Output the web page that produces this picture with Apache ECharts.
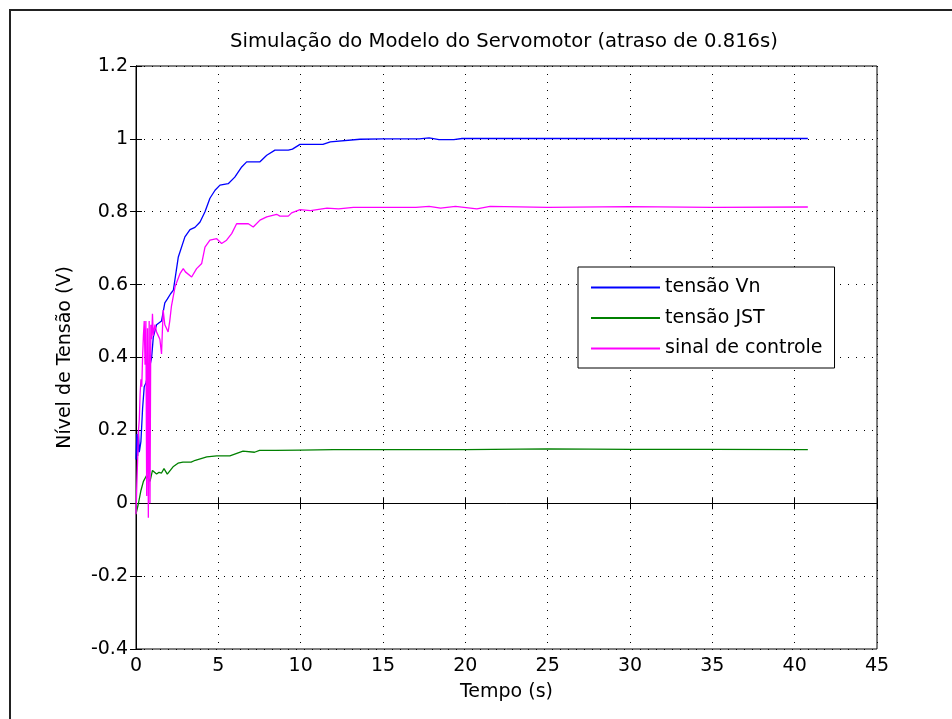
<!DOCTYPE html>
<html>
<head>
<meta charset="utf-8">
<script src="https://cdn.jsdelivr.net/npm/echarts@6/dist/echarts.min.js"></script>
<style>
  html, body { margin: 0; padding: 0; background: #fff; }
  #chart { width: 952px; height: 719px; }
</style>
</head>
<body>
<div id="chart"></div>
<script>
// Tensão Vn (saída do servomotor)
const tempoVn = [0, 0.05, 0.1, 0.15, 0.2, 0.3, 0.4, 0.5, 0.6, 0.75, 0.95, 1.05, 1.25, 1.55, 1.75, 1.9, 2.1, 2.27, 2.57, 2.97, 3.28, 3.58, 3.89, 4.19, 4.49, 4.8, 5.1, 5.6, 6.0, 6.42, 6.72, 7.53, 7.94, 8.44, 9.25, 9.5, 9.96, 11.35, 11.8, 13.6, 15, 17.2, 17.8, 18.4, 19.3, 19.8, 22, 25, 30, 35, 40.8];
const tensaoVn = [0.12, 0.19, 0.13, 0.2, 0.14, 0.17, 0.26, 0.32, 0.33, 0.357, 0.40, 0.456, 0.49, 0.50, 0.55, 0.56, 0.575, 0.585, 0.676, 0.731, 0.751, 0.757, 0.772, 0.80, 0.837, 0.859, 0.873, 0.877, 0.895, 0.923, 0.937, 0.937, 0.955, 0.969, 0.969, 0.972, 0.985, 0.985, 0.992, 0.999, 1.0, 1.0, 1.003, 0.998, 0.998, 1.001, 1.001, 1.001, 1.001, 1.001, 1.001];

// Tensão JST
const tempoJST = [0, 0.15, 0.3, 0.45, 0.65, 0.85, 1.0, 1.25, 1.4, 1.55, 1.7, 1.9, 2.25, 2.55, 2.85, 3.35, 3.6, 4.3, 4.9, 5.7, 6.5, 7.2, 7.5, 8.5, 10, 12, 15, 20, 25, 30, 35, 40.8];
const tensaoJST = [-0.03, 0.0, 0.035, 0.06, 0.077, 0.06, 0.09, 0.08, 0.085, 0.083, 0.095, 0.08, 0.1, 0.11, 0.113, 0.113, 0.118, 0.127, 0.13, 0.13, 0.143, 0.14, 0.145, 0.145, 0.146, 0.147, 0.147, 0.147, 0.149, 0.148, 0.148, 0.147];

// Sinal de controle
const tempoControle = [0, 0.05, 0.1, 0.15, 0.2, 0.25, 0.3, 0.35, 0.4, 0.45, 0.5, 0.55, 0.6, 0.65, 0.7, 0.75, 0.8, 0.85, 0.9, 0.95, 1.0, 1.05, 1.15, 1.25, 1.35, 1.45, 1.55, 1.65, 1.75, 1.85, 1.95, 2.05, 2.15, 2.37, 2.67, 2.87, 3.0, 3.38, 3.68, 3.99, 4.19, 4.49, 4.9, 5.2, 5.5, 5.81, 6.11, 6.82, 7.12, 7.53, 7.94, 8.54, 8.74, 9.25, 9.45, 9.96, 10.6, 11.6, 12.3, 13.2, 17.0, 17.8, 18.5, 19.4, 20.7, 21.5, 25, 30, 35, 40.8];
const sinalControle = [-0.03, 0.05, 0.12, 0.2, 0.23, 0.3, 0.34, 0.32, 0.4, 0.46, 0.5, 0.38, 0.5, 0.02, 0.48, -0.04, 0.5, 0.0, 0.49, 0.45, 0.52, 0.46, 0.49, 0.47, 0.46, 0.45, 0.41, 0.53, 0.49, 0.48, 0.47, 0.5, 0.54, 0.594, 0.63, 0.644, 0.635, 0.621, 0.644, 0.658, 0.703, 0.722, 0.726, 0.713, 0.722, 0.74, 0.767, 0.767, 0.758, 0.777, 0.786, 0.793, 0.788, 0.788, 0.797, 0.806, 0.803, 0.81, 0.808, 0.812, 0.812, 0.815, 0.81, 0.815, 0.808, 0.815, 0.812, 0.814, 0.812, 0.813];

const nomesSeries = ['tensão Vn', 'tensão JST', 'sinal de controle'];
const coresSeries = ['#0000ff', '#008000', '#ff00ff'];

// Eixos
const eixoX = { min: 0, max: 45, interval: 5 };
const eixoY = { min: -0.4, max: 1.2, interval: 0.2 };

const FONTE = 'DejaVu Sans';
const pares = (t, v) => t.map((x, i) => [x, v[i]]);

const chart = echarts.init(document.getElementById('chart'), null, { renderer: 'canvas' });

const gradePontilhada = { show: true, lineStyle: { color: '#000', width: 1, type: [1, 7] } };
const tick = { show: true, inside: true, length: 6, lineStyle: { color: '#000', width: 1 } };
const linhaEixo = { show: true, lineStyle: { color: '#000', width: 1 } };
const rotulo = { color: '#000', fontFamily: FONTE, fontSize: 19, margin: 8 };

const serie = (i, t, v) => ({
  name: nomesSeries[i],
  type: 'line',
  data: pares(t, v),
  symbol: 'none',
  showSymbol: false,
  lineStyle: { color: coresSeries[i], width: 1.3 },
  itemStyle: { color: coresSeries[i] },
  z: 3 + i,
  animation: false
});

chart.setOption({
  animation: false,
  backgroundColor: '#fff',
  grid: { left: 136, right: 75, top: 66, bottom: 70, show: true, borderColor: '#000', borderWidth: 1, backgroundColor: '#fff' },
  graphic: [
    { type: 'polyline', shape: { points: [[10, 719], [10, 10], [952, 10]] }, style: { stroke: '#222', lineWidth: 2, fill: null }, silent: true },
    { type: 'text', x: 504, y: 42, style: { text: 'Simulação do Modelo do Servomotor (atraso de 0.816s)', fill: '#000', font: '19.6px "DejaVu Sans"', textAlign: 'center', textVerticalAlign: 'middle' }, silent: true }
  ],
  legend: {
    orient: 'vertical',
    left: 578, top: 267,
    data: nomesSeries.map(n => ({ name: n, icon: 'rect' })),
    backgroundColor: '#fff',
    borderColor: '#000', borderWidth: 1,
    padding: [11, 12, 10, 13],
    itemWidth: 69, itemHeight: 2, itemGap: 11.5,
    textStyle: { color: '#000', fontFamily: FONTE, fontSize: 19, lineHeight: 19 }
  },
  xAxis: [
    {
      type: 'value', position: 'bottom', min: eixoX.min, max: eixoX.max, interval: eixoX.interval,
      name: 'Tempo (s)', nameLocation: 'middle', nameGap: 34,
      nameTextStyle: { color: '#000', fontFamily: FONTE, fontSize: 19 },
      axisLine: linhaEixo, axisTick: tick, axisLabel: rotulo, splitLine: gradePontilhada
    },
    {
      type: 'value', position: 'top', min: eixoX.min, max: eixoX.max, interval: eixoX.interval,
      axisLine: linhaEixo, axisTick: tick, axisLabel: { show: false }, splitLine: { show: false }
    }
  ],
  yAxis: [
    {
      type: 'value', position: 'left', min: eixoY.min, max: eixoY.max, interval: eixoY.interval,
      name: 'Nível de Tensão (V)', nameLocation: 'middle', nameGap: 61, nameRotate: 90,
      nameTextStyle: { color: '#000', fontFamily: FONTE, fontSize: 19 },
      axisLine: linhaEixo, axisTick: tick, axisLabel: rotulo, splitLine: gradePontilhada
    },
    {
      type: 'value', position: 'right', min: eixoY.min, max: eixoY.max, interval: eixoY.interval,
      axisLine: linhaEixo, axisTick: tick, axisLabel: { show: false }, splitLine: { show: false }
    }
  ],
  series: [
    serie(0, tempoVn, tensaoVn),
    serie(1, tempoJST, tensaoJST),
    serie(2, tempoControle, sinalControle)
  ]
});
</script>
</body>
</html>
